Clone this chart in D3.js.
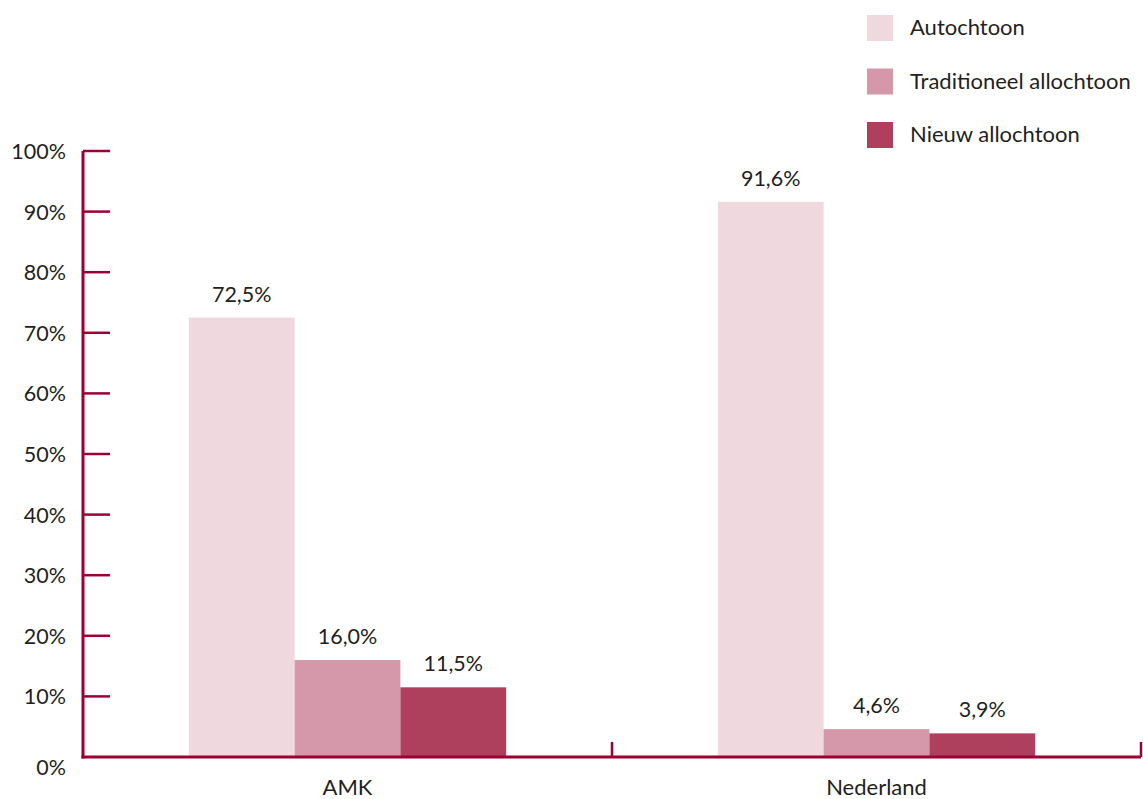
<!DOCTYPE html>
<html><head><meta charset="utf-8">
<script src="https://cdn.jsdelivr.net/npm/d3@7"></script>
<style>
html,body{margin:0;padding:0;background:#fff;}
text{font-family:"Lato","Open Sans",sans-serif;fill:#231f20;}
</style></head>
<body><svg id="c" width="1143" height="799"></svg>
<script>
const categories = ["AMK", "Nederland"];
const seriesNames = ["Autochtoon", "Traditioneel allochtoon", "Nieuw allochtoon"];
const autochtoon = [72.5, 91.6];
const traditioneel = [16.0, 4.6];
const nieuw = [11.5, 3.9];
const yTicks = [0,10,20,30,40,50,60,70,80,90,100];
const colors = ["#efd8de", "#d498aa", "#ae405e"];
const axisColor = "#9b0032";

const svg = d3.select("#c");
const pLeft = 83, pRight = 1141, pTop = 151, pBottom = 757;
const y = d3.scaleLinear().domain([0,100]).range([pBottom, pTop]);
const x0 = d3.scaleBand().domain(categories).range([pLeft, pRight]).paddingInner(0).paddingOuter(0);
const x1 = d3.scaleBand().domain(seriesNames).range([0, x0.bandwidth()]).paddingOuter(1).paddingInner(0);

const series = [autochtoon, traditioneel, nieuw];
const fmt = v => v.toFixed(1).replace(".", ",") + "%";

categories.forEach((c, ci) => {
  seriesNames.forEach((s, si) => {
    const v = series[si][ci];
    const bx = x0(c) + x1(s);
    svg.append("rect").attr("x", bx).attr("y", y(v)).attr("width", x1.bandwidth()).attr("height", y(0) - y(v)).attr("fill", colors[si]);
    svg.append("text").attr("x", bx + x1.bandwidth()/2).attr("y", y(v) - 16).attr("text-anchor","middle").attr("font-size", 21.5).text(fmt(v));
  });
});

svg.append("line").attr("x1", pLeft).attr("x2", pLeft).attr("y1", pTop).attr("y2", pBottom+1.5).attr("stroke", axisColor).attr("stroke-width", 3);
yTicks.forEach(t => {
  if (t > 0) svg.append("line").attr("x1", pLeft).attr("x2", 110).attr("y1", y(t)).attr("y2", y(t)).attr("stroke", axisColor).attr("stroke-width", 2.5);
  svg.append("text").attr("x", 66).attr("y", y(t) + 8 + (t===0?10:0)).attr("text-anchor","end").attr("font-size", 21.5).text(t + "%");
});

svg.append("line").attr("x1", pLeft-1.5).attr("x2", pRight).attr("y1", pBottom).attr("y2", pBottom).attr("stroke", axisColor).attr("stroke-width", 3);
[x0(categories[1]), pRight].forEach(px => {
  svg.append("line").attr("x1", px).attr("x2", px).attr("y1", pBottom).attr("y2", pBottom-15).attr("stroke", axisColor).attr("stroke-width", 2.5);
});
categories.forEach(c => {
  svg.append("text").attr("x", x0(c) + x0.bandwidth()/2).attr("y", 795).attr("text-anchor","middle").attr("font-size", 22).text(c);
});

seriesNames.forEach((s, i) => {
  const ly = 15 + i*53.5;
  svg.append("rect").attr("x", 867).attr("y", ly).attr("width", 26).attr("height", 26).attr("fill", colors[i]);
  svg.append("text").attr("x", 910).attr("y", ly + 20).attr("font-size", 22).text(s);
});
</script></body></html>
